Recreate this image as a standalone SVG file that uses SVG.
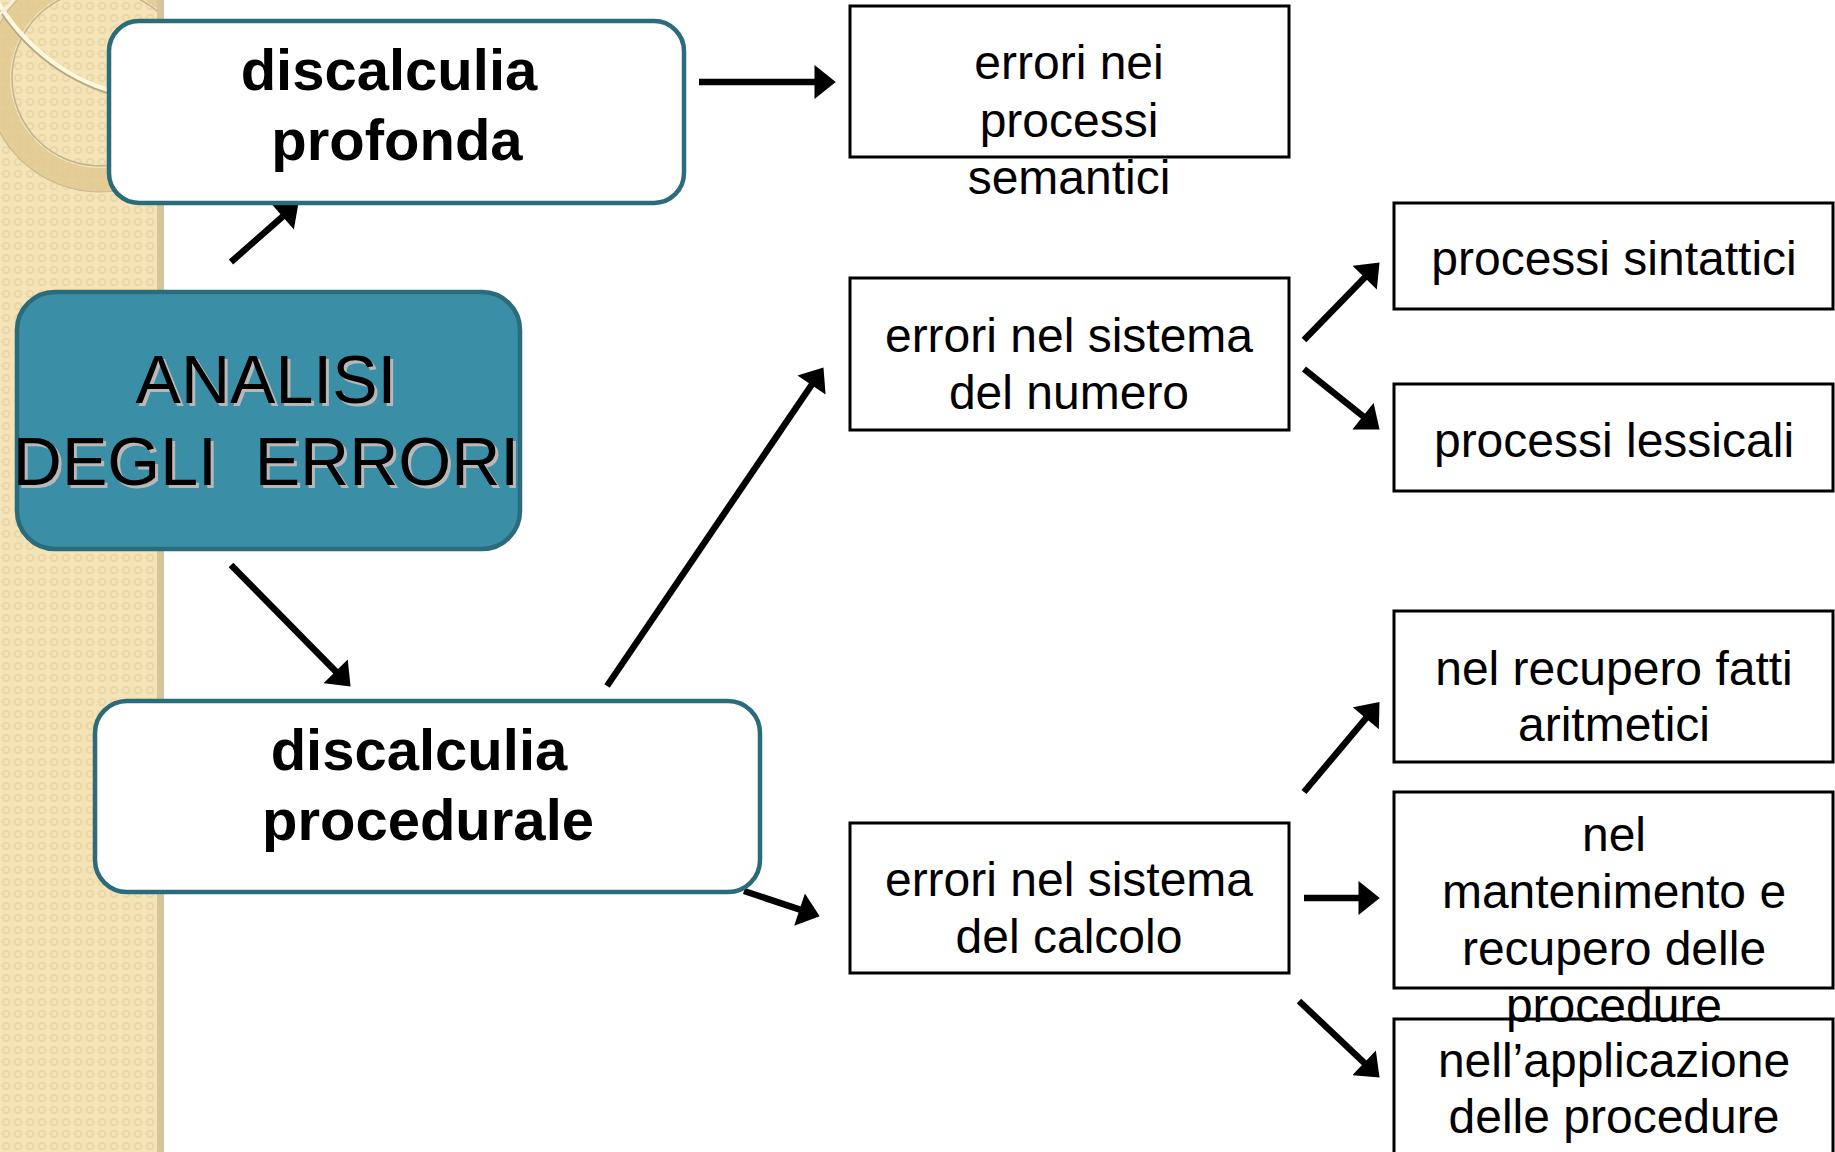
<svg xmlns="http://www.w3.org/2000/svg" width="1835" height="1152" viewBox="0 0 1835 1152">
  <defs>
    <pattern id="dots" x="0" y="0" width="12" height="12" patternUnits="userSpaceOnUse">
      <rect width="12" height="12" fill="#f4e3b6"/>
      <circle cx="6" cy="6" r="3.2" fill="none" stroke="#ead7a6" stroke-width="1.8"/>
    </pattern>
    <clipPath id="stripClip"><rect x="0" y="0" width="158" height="1152"/></clipPath>
    <marker id="ah" markerUnits="userSpaceOnUse" markerWidth="22" markerHeight="34" viewBox="0 0 20 32" refX="8" refY="16" orient="auto">
      <path d="M0,0 L20,16 L0,32 z" fill="#000"/>
    </marker>
  </defs>
  <style>
    .bold { font-family: "Liberation Sans", Arial, sans-serif; font-weight: bold; font-size: 58px; fill: #000; text-anchor: middle; }
    .lbl { font-family: "Liberation Sans", Arial, sans-serif; font-size: 48px; fill: #000; text-anchor: middle; }
    .big { font-family: "Liberation Sans", Arial, sans-serif; font-size: 68px; text-anchor: middle; }
    .tealbox { fill: #ffffff; stroke: #2a6b7c; stroke-width: 4.5; }
    .box { fill: #ffffff; stroke: #000; stroke-width: 3; }
    .arrow { stroke: #000; stroke-width: 6.5; fill: none; marker-end: url(#ah); }
  </style>

  <!-- background -->
  <rect x="0" y="0" width="1835" height="1152" fill="#ffffff"/>
  <g id="strip">
    <rect x="0" y="0" width="158" height="1152" fill="url(#dots)"/>
    <g clip-path="url(#stripClip)">
      <circle cx="100" cy="78" r="102" fill="none" stroke="#e0c990" stroke-opacity="0.85" stroke-width="24"/>
      <circle cx="100" cy="78" r="114" fill="none" stroke="#c9b98f" stroke-width="1.2"/>
      <circle cx="100" cy="78" r="88" fill="none" stroke="#c2b490" stroke-width="1.5"/>
      <circle cx="170" cy="-100" r="203" fill="none" stroke="#b8aa88" stroke-width="2"/>
      <circle cx="170" cy="-100" r="200" fill="none" stroke="#fff8e0" stroke-width="4"/>
      <circle cx="-60" cy="-60" r="95" fill="none" stroke="#f8efd6" stroke-width="3"/>
    </g>
    <rect x="157" y="0" width="7" height="1152" fill="#d6c59a"/>
  </g>

  <!-- connectors -->
  <g id="connectors">
    <line class="arrow" x1="231" y1="262" x2="289" y2="211"/>
    <line class="arrow" x1="699" y1="82" x2="823" y2="82"/>
    <line class="arrow" x1="231" y1="565" x2="341.6" y2="677.4"/>
    <line class="arrow" x1="607" y1="686" x2="816.3" y2="378"/>
    <line class="arrow" x1="744" y1="891" x2="807.6" y2="912.2"/>
    <line class="arrow" x1="1304" y1="340" x2="1370.6" y2="271.6"/>
    <line class="arrow" x1="1304" y1="369" x2="1369.6" y2="421.5"/>
    <line class="arrow" x1="1304" y1="792" x2="1371.3" y2="711.8"/>
    <line class="arrow" x1="1304" y1="898" x2="1367" y2="898"/>
    <line class="arrow" x1="1299" y1="1001" x2="1370.3" y2="1068.7"/>
  </g>

  <g id="profonda">
    <rect class="tealbox" x="109" y="21" width="575" height="182" rx="30" ry="30"/>
    <text class="bold" x="389" y="90">discalculia</text>
    <text class="bold" x="397" y="160">profonda</text>
  </g>

  <g id="analisi">
    <rect x="17" y="292" width="503" height="257" rx="38" ry="38" fill="#3a8fa6" stroke="#2a6b7c" stroke-width="4.5"/>
    <g class="big" fill="#b8b8b8" transform="translate(3,3)">
      <text x="266" y="403">ANALISI</text>
      <text x="266" y="485" xml:space="preserve">DEGLI  ERRORI</text>
    </g>
    <g class="big" fill="#000">
      <text x="266" y="403">ANALISI</text>
      <text x="266" y="485" xml:space="preserve">DEGLI  ERRORI</text>
    </g>
  </g>

  <g id="procedurale">
    <rect class="tealbox" x="95" y="701" width="665" height="191" rx="32" ry="32"/>
    <text class="bold" x="419" y="770">discalculia</text>
    <text class="bold" x="428" y="840">procedurale</text>
  </g>

  <g id="semantici">
    <rect class="box" x="850" y="6" width="439" height="151"/>
    <text class="lbl" x="1069" y="79">errori nei</text>
    <text class="lbl" x="1069" y="137">processi</text>
    <text class="lbl" x="1069" y="194">semantici</text>
  </g>

  <g id="numero">
    <rect class="box" x="850" y="278" width="439" height="152"/>
    <text class="lbl" x="1069" y="352">errori nel sistema</text>
    <text class="lbl" x="1069" y="409">del numero</text>
  </g>

  <g id="calcolo">
    <rect class="box" x="850" y="823" width="439" height="150"/>
    <text class="lbl" x="1069" y="896">errori nel sistema</text>
    <text class="lbl" x="1069" y="953">del calcolo</text>
  </g>

  <g id="sintattici">
    <rect class="box" x="1394" y="203" width="439" height="106"/>
    <text class="lbl" x="1614" y="275">processi sintattici</text>
  </g>

  <g id="lessicali">
    <rect class="box" x="1394" y="384" width="439" height="107"/>
    <text class="lbl" x="1614" y="457">processi lessicali</text>
  </g>

  <g id="fatti">
    <rect class="box" x="1394" y="611" width="439" height="151"/>
    <text class="lbl" x="1614" y="685">nel recupero fatti</text>
    <text class="lbl" x="1614" y="741">aritmetici</text>
  </g>

  <g id="applicazione">
    <rect class="box" x="1394" y="1019" width="439" height="150"/>
    <text class="lbl" x="1614" y="1077">nell’applicazione</text>
    <text class="lbl" x="1614" y="1133">delle procedure</text>
  </g>

  <g id="mantenimento">
    <rect class="box" x="1394" y="792" width="439" height="196"/>
    <text class="lbl" x="1614" y="851">nel</text>
    <text class="lbl" x="1614" y="908">mantenimento e</text>
    <text class="lbl" x="1614" y="965">recupero delle</text>
    <text class="lbl" x="1614" y="1022">procedure</text>
  </g>
</svg>
